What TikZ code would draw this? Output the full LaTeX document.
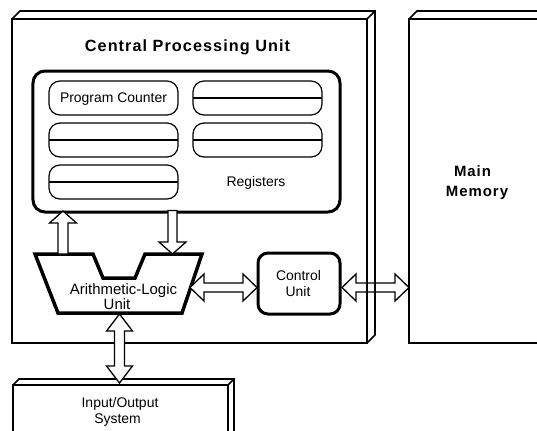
\documentclass[tikz,border=0pt]{standalone}
\usepackage{fontspec}
\setmainfont{Liberation Sans}
\newfontfamily\headfont{Liberation Sans}[LetterSpace=6.5]
\usetikzlibrary{calc}

% sizes of the hollow block arrows
\def\ahl{13bp}\def\ahw{13.5bp}\def\asw{4.5bp}

\tikzset{
  headlen/.code={\def\ahl{#1}},
  headhalf/.code={\def\ahw{#1}},
  shafthalf/.code={\def\asw{#1}},
  % hollow arrow with one head, pointing at the target
  onehead/.style={to path={
    ($(\tikztostart)!\asw!90:(\tikztotarget)$)
    -- ($(\tikztotarget)!\ahl!(\tikztostart)!\asw!-90:(\tikztostart)$)
    -- ($(\tikztotarget)!\ahl!(\tikztostart)!\ahw!-90:(\tikztostart)$)
    -- (\tikztotarget)
    -- ($(\tikztotarget)!\ahl!(\tikztostart)!\ahw!90:(\tikztostart)$)
    -- ($(\tikztotarget)!\ahl!(\tikztostart)!\asw!90:(\tikztostart)$)
    -- ($(\tikztostart)!\asw!-90:(\tikztotarget)$)
    -- cycle}},
  % hollow arrow with a head at both ends
  twohead/.style={to path={
    -- ($(\tikztostart)!\ahl!(\tikztotarget)!\ahw!90:(\tikztotarget)$)
    -- ($(\tikztostart)!\ahl!(\tikztotarget)!\asw!90:(\tikztotarget)$)
    -- ($(\tikztotarget)!\ahl!(\tikztostart)!\asw!-90:(\tikztostart)$)
    -- ($(\tikztotarget)!\ahl!(\tikztostart)!\ahw!-90:(\tikztostart)$)
    -- (\tikztotarget)
    -- ($(\tikztotarget)!\ahl!(\tikztostart)!\ahw!90:(\tikztostart)$)
    -- ($(\tikztotarget)!\ahl!(\tikztostart)!\asw!90:(\tikztostart)$)
    -- ($(\tikztostart)!\ahl!(\tikztotarget)!\asw!-90:(\tikztotarget)$)
    -- ($(\tikztostart)!\ahl!(\tikztotarget)!\ahw!-90:(\tikztotarget)$)
    -- cycle}},
}

\begin{document}
\begin{tikzpicture}[x=1bp,y=-1bp,
  every node/.style={inner sep=0pt, outer sep=0pt},
  txt/.style={font=\fontsize{14}{16}\selectfont, anchor=base},
  alutxt/.style={font=\fontsize{15}{17}\selectfont, anchor=base},
  head/.style={font=\headfont\bfseries\fontsize{15}{18}\selectfont, anchor=base},
  title/.style={font=\headfont\bfseries\fontsize{16.3}{19}\selectfont, anchor=base},
  frame/.style={draw, line width=1.6bp},
  face/.style={line width=1.6bp},
  regbox/.style={draw, line width=3bp, rounded corners=12bp},
  slot/.style={draw, line width=1.2bp, rounded corners=11bp,
    minimum width=129bp, minimum height=34bp},
  slotline/.style={line width=1.2bp},
  unitbox/.style={draw, line width=3bp, rounded corners=10bp},
  alubody/.style={line width=3.5bp},
  bus/.style={draw, line width=1.3bp, fill=white},
  busopen/.style={draw, line width=1.3bp},
]
\useasboundingbox (0,0) rectangle (537,430);

% ---- central processing unit cabinet ----
\node[frame, minimum width=355bp, minimum height=324bp] (cpu) at (189.5,181) {};
\draw[face] (cpu.north west) -- ++(8,-8) -- ($(cpu.north east)+(8,-8)$)
  -- ($(cpu.south east)+(8,-8)$) -- (cpu.south east);
\draw[face] (cpu.north east) -- ++(8,-8);
\node[title] (cputitle) at (187.5,51.5) {Central Processing Unit};

% ---- main memory cabinet ----
\node[frame, minimum width=136bp, minimum height=324bp] (mem) at (477,181) {};
\draw[face] (mem.north west) -- ++(8,-8) -- ($(mem.north east)+(8,-8)$)
  -- ($(mem.south east)+(8,-8)$) -- (mem.south east);
\node[head] (memA) at (472.5,176.5) {Main};
\node[head] (memB) at (477,196.5) {Memory};

% ---- input/output cabinet ----
\node[frame, minimum width=215bp, minimum height=60bp] (io) at (120.5,415) {};
\draw[face] (io.north west) -- ++(6,-6) -- ($(io.north east)+(6,-6)$)
  -- ($(io.south east)+(6,-6)$) -- (io.south east);
\draw[face] (io.north east) -- ++(6,-6);
\node[txt] (ioA) at (120,407) {Input/Output};
\node[txt] (ioB) at (117.5,423) {System};

% ---- register file ----
\node[regbox, minimum width=307bp, minimum height=141bp] (reg) at (186.5,141.5) {};
\node[slot] (pc) at (113.5,98) {};
\node[txt] (pclabel) at (113.5,102.5) {Program Counter};
\node[slot] (r2) at (113.5,140) {};
\node[slot] (r3) at (113.5,182) {};
\node[slot] (r4) at (257.5,98) {};
\node[slot] (r5) at (257.5,140) {};
\foreach \s in {r2,r3,r4,r5} \draw[slotline] (\s.west) -- (\s.east);
\node[txt] (reglabel) at (256,186.5) {Registers};

% ---- arithmetic-logic unit ----
\draw[alubody] (35,254) -- (93,254) -- (103,278) -- (135,278) -- (145,254)
  -- (202,254) -- (182,313) -- (58,313) -- cycle;
\node[alutxt] (aluA) at (123.5,294) {Arithmetic-Logic};
\node[alutxt] (aluB) at (117,309.5) {Unit};
\coordinate (alu-up) at (63,254);
\coordinate (alu-in) at (172.5,254);
\coordinate (alu-out) at (190,287.5);
\coordinate (alu-io) at (119.5,314);

% ---- control unit ----
\node[unitbox, minimum width=82bp, minimum height=61bp] (cu) at (299,283.5) {};
\node[txt] (cuA) at (298.5,280) {Control};
\node[txt] (cuB) at (298,296) {Unit};

% ---- data paths ----
\coordinate (reg-up) at (reg.south -| alu-up);
\coordinate (reg-dn) at (reg.south -| alu-in);
\coordinate (cu-in) at (alu-out -| cu.west);
\coordinate (cu-out) at ($(alu-out -| cu.east)+(2,0)$);
\coordinate (mem-in) at (alu-out -| mem.west);
\coordinate (io-in) at ($(alu-io |- io.north)+(0,-2)$);

\draw[bus, headlen=12bp, headhalf=13.5bp, shafthalf=5bp] (alu-up) to[onehead] ($(reg-up)+(0,-1)$);
\draw[bus, headlen=12bp, headhalf=13.5bp, shafthalf=4.5bp] ($(reg-dn)+(0,-1.5)$) to[onehead] (alu-in);
\draw[bus, headlen=14bp] (alu-out) to[twohead] ($(cu-in)+(-1,0)$);
\draw[busopen, headlen=14bp] (cu-out) to[twohead] (mem-in);
\draw[bus, headlen=17bp, headhalf=13bp, shafthalf=5bp] (alu-io) to[twohead] (io-in);
\end{tikzpicture}
\end{document}
